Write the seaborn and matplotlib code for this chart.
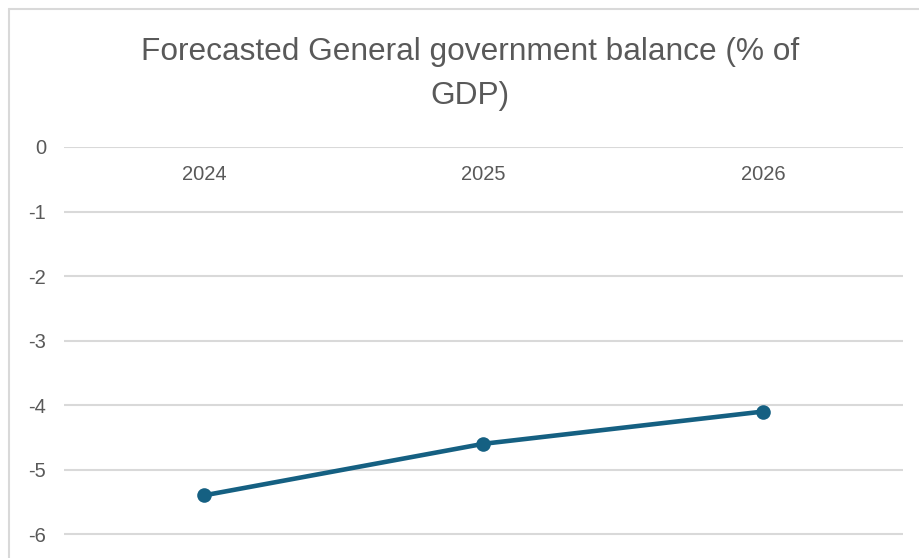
import matplotlib
matplotlib.use("Agg")
import matplotlib.pyplot as plt
from matplotlib import font_manager
from matplotlib.lines import Line2D
import numpy as np
import pandas as pd
import seaborn as sns

# data
years = ["2024", "2025", "2026"]
balance = [-5.4, -4.6, -4.1]
yticks = [0, -1, -2, -3, -4, -5, -6]
title = "Forecasted General government balance (% of\nGDP)"

df = pd.DataFrame({"year": years, "balance": balance})

sns.set_theme(style="white")
names = {f.name for f in font_manager.fontManager.ttflist}
narrow = "Liberation Sans Narrow" if "Liberation Sans Narrow" in names else "Liberation Sans"
plt.rcParams["font.family"] = ["Liberation Sans", "DejaVu Sans"]

fig = plt.figure(figsize=(9.2, 5.58), dpi=100)
ax = fig.add_axes([64 / 920, 0, (903 - 64) / 920, 411 / 558])

sns.lineplot(data=df, x="year", y="balance", ax=ax, color="#156082",
             linewidth=3.3, marker="o", markersize=10.5, markeredgewidth=0,
             sort=False)

ax.set_xlim(-0.5, 2.5)
ax.set_ylim(-6.37, 0)
ax.set_yticks(yticks)
ax.set_yticklabels([str(t) for t in yticks])
ax.grid(axis="y", color="#d9d9d9", linewidth=1.5)
ax.set_axisbelow(True)
for s in ax.spines.values():
    s.set_visible(False)
ax.tick_params(axis="y", length=0, pad=13, labelsize=14.5, labelcolor="#595959")
ax.tick_params(axis="x", length=0, labelsize=14.5, labelcolor="#595959")
ax.xaxis.set_ticks_position("top")
ax.tick_params(axis="x", pad=-27)
ax.set_xlabel("")
ax.set_ylabel("")
for lab in ax.get_yticklabels():
    lab.set_horizontalalignment("right")

fig.text(470 / 920, 1 - 74 / 558, title, ha="center", va="center",
         fontsize=22.8, color="#595959", family=[narrow, "DejaVu Sans"],
         linespacing=1.6)

# chart frame (only top and left edges visible)
fig.add_artist(Line2D([9 / 920, 9 / 920], [0, 1 - 9 / 558], color="#d9d9d9", lw=1.5))
fig.add_artist(Line2D([9 / 920, 1], [1 - 9 / 558, 1 - 9 / 558], color="#d9d9d9", lw=1.5))

fig.savefig("out.png", dpi=100, facecolor="white")
